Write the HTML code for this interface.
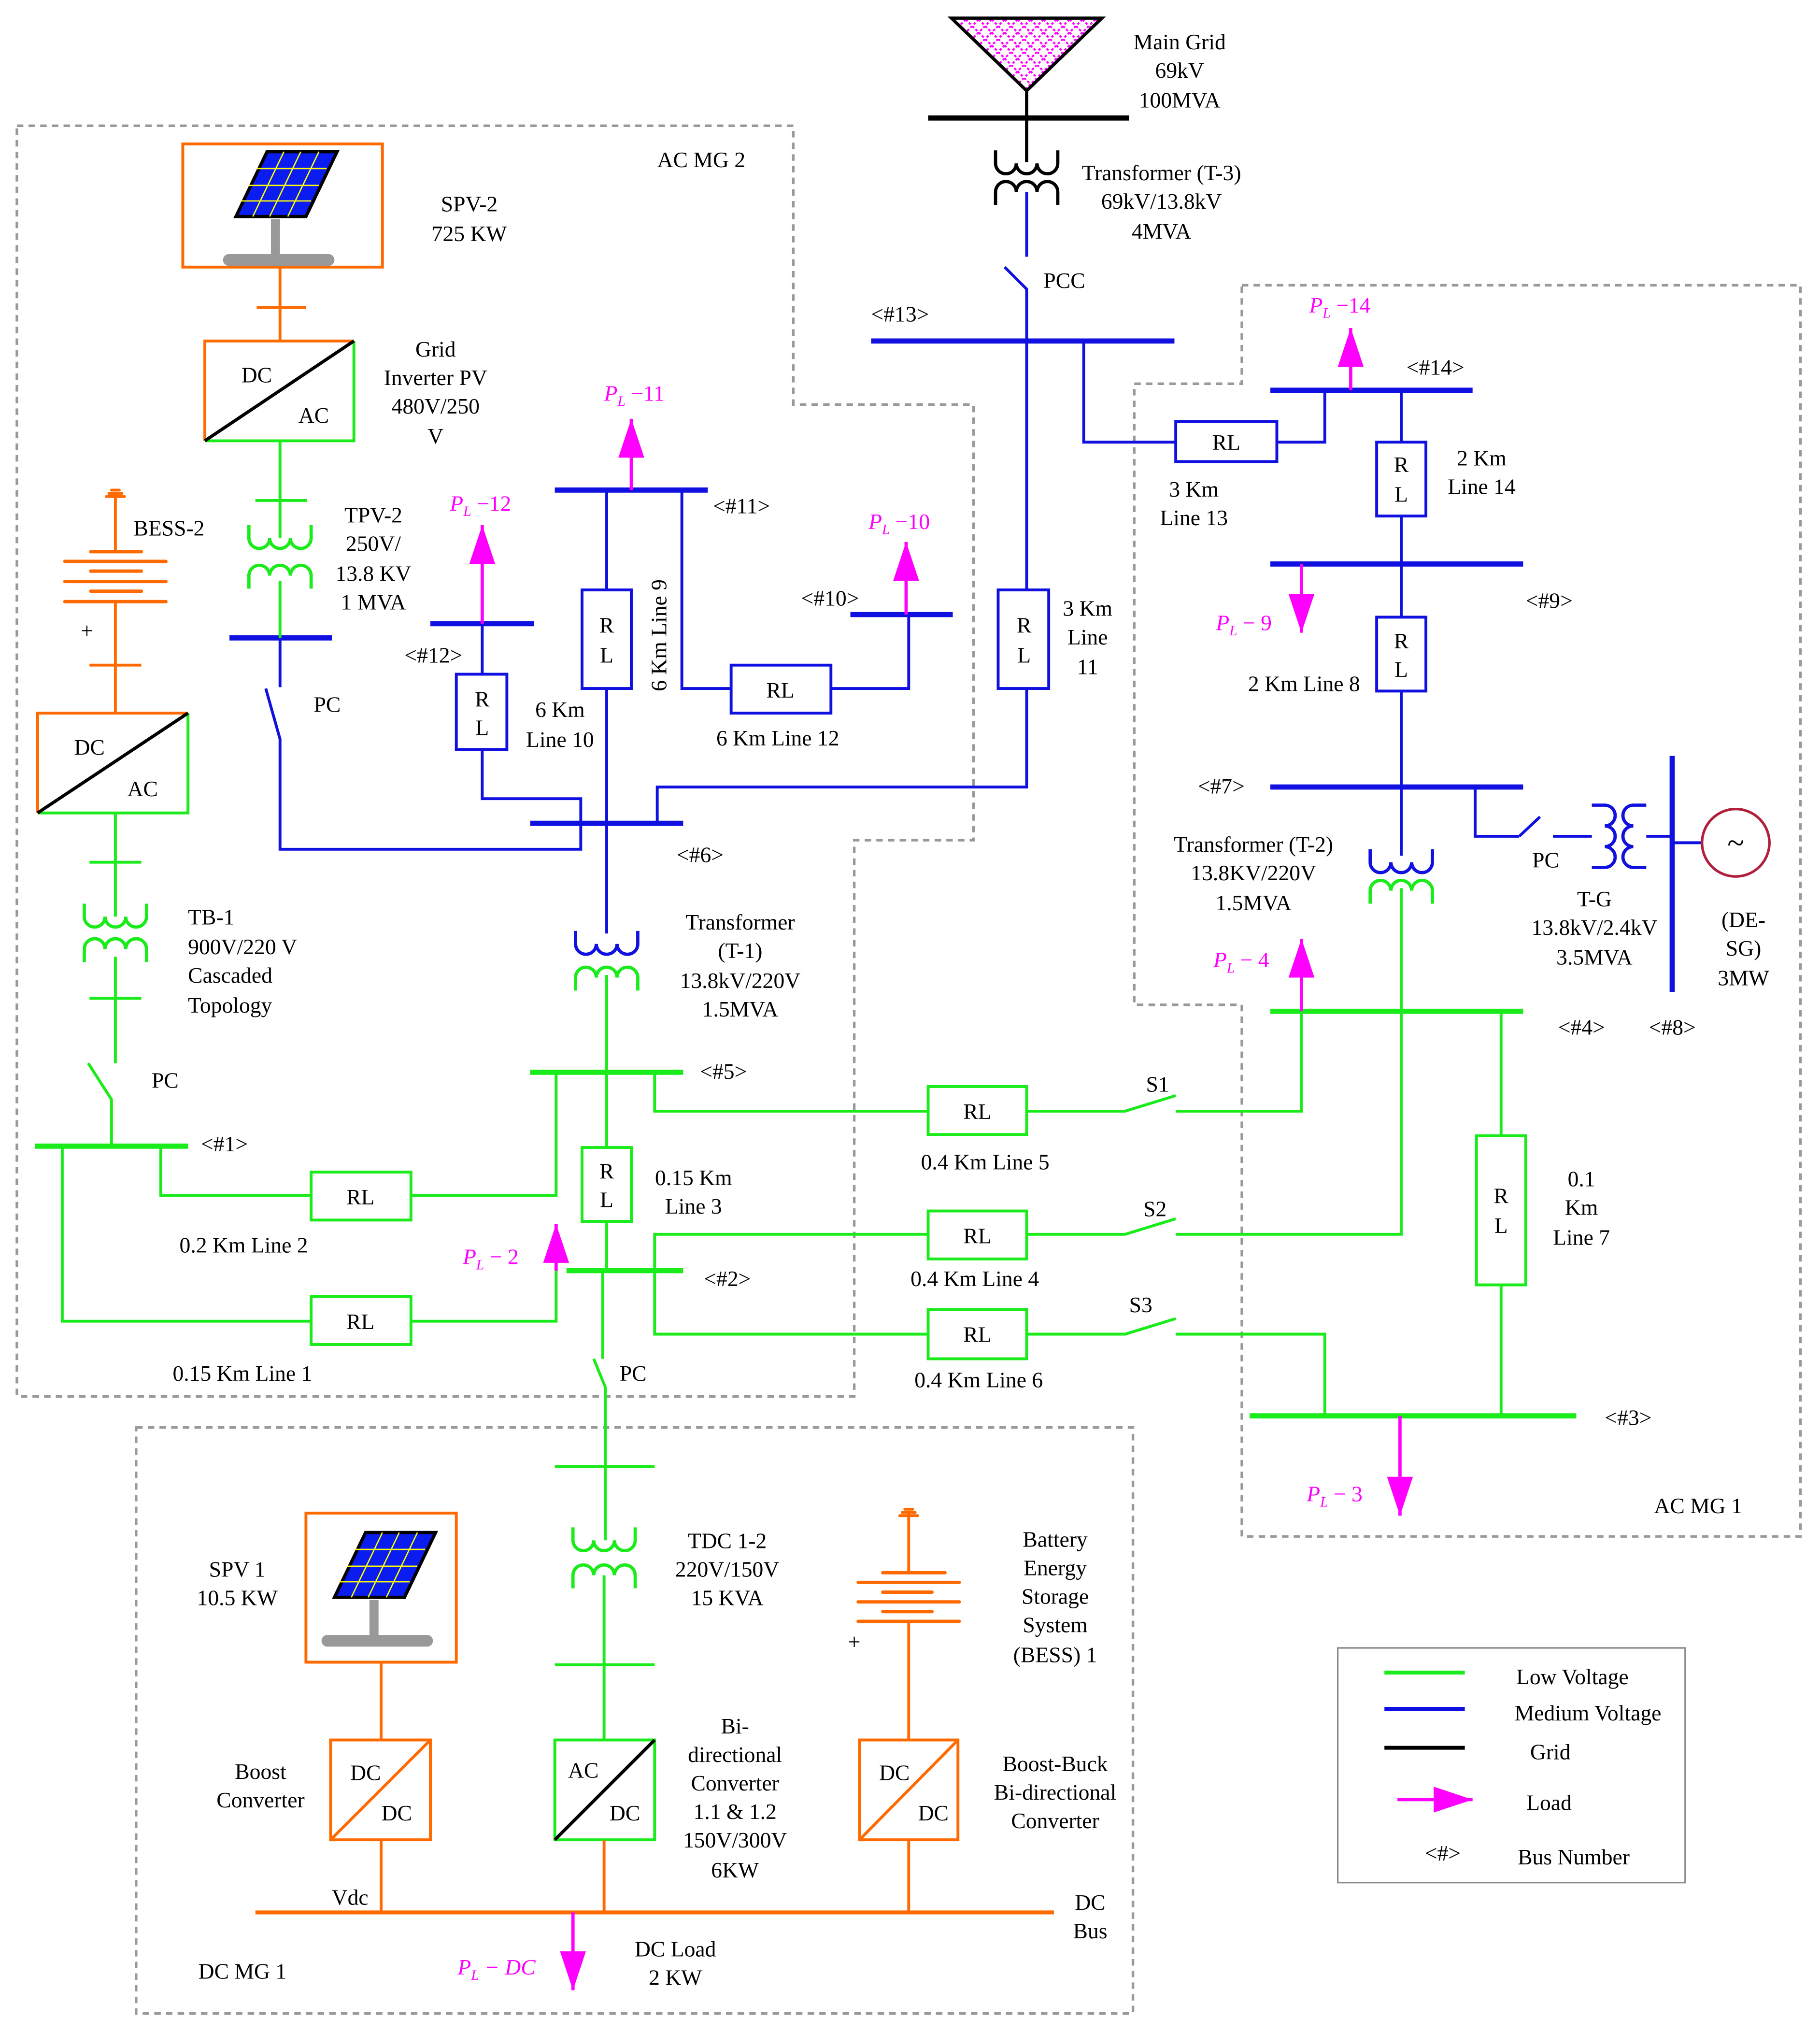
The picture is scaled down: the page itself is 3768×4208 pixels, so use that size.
<!DOCTYPE html>
<html><head><meta charset="utf-8"><style>
html,body{margin:0;padding:0;background:#fff}
svg{display:block}
text{font-family:"Liberation Serif",serif;font-size:17px;fill:#000}
.m{text-anchor:middle}
.pl{fill:#ff00ff}
</style></head><body>
<svg width="3768" height="4208" viewBox="0 0 1404 1568" xmlns="http://www.w3.org/2000/svg">
<defs>
<pattern id="hatch" width="10" height="10" patternUnits="userSpaceOnUse">
<path d="M0,0 L10,10 M10,0 L0,10" stroke="#ff00ff" stroke-width="1.5" stroke-dasharray="2,1.5"/>
</pattern>
<marker id="ar" markerWidth="30" markerHeight="20" refX="30" refY="10" orient="auto" markerUnits="userSpaceOnUse" viewBox="0 0 30 20">
<path d="M0,0 L30,10 L0,20 Z" fill="#ff00ff"/>
</marker>
<g id="wt" fill="none" stroke-width="2.5"><path d="M0,0 V10 A8,8 0 0 0 16,10 A8,8 0 0 0 32,10 A8,8 0 0 0 48,10 V0"/></g>
<g id="wb" fill="none" stroke-width="2.5"><path d="M0,22 V12 A8,8 0 0 1 16,12 A8,8 0 0 1 32,12 A8,8 0 0 1 48,12 V22"/></g>
<g id="panel">
<polygon points="24,0 78,0 54,50 0,50" fill="#0b1cf0" stroke="#000" stroke-width="2.5"/>
<path d="M37,0 L13,50 M50,0 L26,50 M64,0 L40,50 M16,13 H70 M10,26 H64 M4,38 H58" stroke="#ffff00" stroke-width="1"/>
<rect x="27" y="52" width="7" height="30" fill="#999"/>
<rect x="-10" y="79" width="86" height="9" rx="4.5" fill="#999"/>
</g>
<g id="term" stroke="#ff6a00" stroke-width="2.2" stroke-linecap="round">
<path d="M-7,0 H7 M-5,-2.5 H5 M-3,-5 H3"/>
</g>
</defs>

<!-- dashed regions -->
<g fill="none" stroke="#999" stroke-width="2" stroke-dasharray="5,4">
<polygon points="13,97 612,97 612,312 751,312 751,648 659,648 659,1077 13,1077"/>
<polygon points="958,220 1389,220 1389,1185 958,1185 958,775 875,775 875,296 958,296"/>
<rect x="105" y="1101" width="769" height="452"/>
</g>
<rect x="1032" y="1271" width="268" height="181" fill="none" stroke="#888" stroke-width="1.2"/>

<!-- MAIN GRID -->
<polygon points="734,14 850,14 792,70" fill="url(#hatch)" stroke="#000" stroke-width="2.5"/>
<line x1="792" y1="70" x2="792" y2="125" stroke="#000" stroke-width="2.5"/>
<line x1="716" y1="91" x2="871" y2="91" stroke="#000" stroke-width="4"/>
<use href="#wt" x="768" y="116" stroke="#000"/>
<use href="#wb" x="768" y="136" stroke="#000"/>
<text x="910" y="38" class="m">Main Grid</text>
<text x="910" y="60" class="m">69kV</text>
<text x="910" y="83" class="m">100MVA</text>
<text x="896" y="139" class="m">Transformer (T-3)</text>
<text x="896" y="161" class="m">69kV/13.8kV</text>
<text x="896" y="184" class="m">4MVA</text>

<!-- BLUE (medium voltage) -->
<g stroke="#1010e0" stroke-width="2.2" fill="none">
<path d="M792,148 V198 M775,206 L792,223 V455 M792,531 V607 H507 V635"/>
<rect x="770" y="455" width="39" height="76" fill="#fff"/>
<path d="M836,263 V341 H907 M985,341 H1022 V301"/>
<rect x="907" y="325" width="78" height="31" fill="#fff"/>
<path d="M1081,301 V341 M1081,398 V476 M1081,533 V660"/>
<rect x="1062" y="341" width="38" height="57" fill="#fff"/>
<rect x="1062" y="476" width="38" height="57" fill="#fff"/>
<path d="M1138,607 V645 H1172 M1172,645 L1188,630 M1198,645 H1228"/>
<path d="M1270,645 H1290 M1290,650 H1313"/>
<path d="M468,378 V455 M468,531 V720"/>
<rect x="449" y="455" width="38" height="76" fill="#fff"/>
<path d="M526,378 V531 H564 M641,531 H701 V474"/>
<rect x="564" y="513" width="77" height="37" fill="#fff"/>
<path d="M372,481 V520 M372,578 V616 H448 V635"/>
<rect x="352" y="520" width="39" height="58" fill="#fff"/>
<path d="M216,492 V530 M205,531 L216,570 V655 H448 V635"/>
</g>
<g stroke="#1010e0" stroke-width="4">
<line x1="672" y1="263" x2="906" y2="263"/>
<line x1="980" y1="301" x2="1136" y2="301"/>
<line x1="980" y1="435" x2="1175" y2="435"/>
<line x1="980" y1="607" x2="1175" y2="607"/>
<line x1="1290" y1="583" x2="1290" y2="765"/>
<line x1="428" y1="378" x2="546" y2="378"/>
<line x1="656" y1="474" x2="735" y2="474"/>
<line x1="332" y1="481" x2="412" y2="481"/>
<line x1="409" y1="635" x2="527" y2="635"/>
<line x1="177" y1="492" x2="256" y2="492"/>
</g>
<g transform="translate(1228,669) rotate(-90)"><use href="#wt" x="0" y="0" stroke="#1010e0"/></g>
<g transform="translate(1248,669) rotate(-90)"><use href="#wb" x="0" y="0" stroke="#1010e0"/></g>
<circle cx="1339" cy="650" r="26" fill="none" stroke="#b0203a" stroke-width="2"/>
<text x="1339" y="658" class="m" style="font-size:24px">~</text>

<use href="#wt" x="444" y="718" stroke="#1010e0"/>
<use href="#wb" x="444" y="742" stroke="#1aeb1a"/>
<use href="#wt" x="1057" y="655" stroke="#1010e0"/>
<use href="#wb" x="1057" y="675" stroke="#1aeb1a"/>
<use href="#wt" x="192" y="405" stroke="#1aeb1a"/>
<use href="#wb" x="192" y="432" stroke="#1aeb1a"/>
<use href="#wt" x="65" y="697" stroke="#1aeb1a"/>
<use href="#wb" x="65" y="720" stroke="#1aeb1a"/>
<use href="#wt" x="442" y="1178" stroke="#1aeb1a"/>
<use href="#wb" x="442" y="1203" stroke="#1aeb1a"/>

<!-- GREEN (low voltage) -->
<g stroke="#1aeb1a" stroke-width="2.2" fill="none">
<path d="M216,340 V415 M216,448 V492"/>
<path d="M197,386 H237"/>
<path d="M89,627 V707 M89,738 V820 M68,820 L86,848 V884"/>
<path d="M69,665 H109 M69,770 H109"/>
<path d="M124,884 V922 H240 M317,922 H429 V827"/>
<rect x="240" y="904" width="77" height="37" fill="#fff"/>
<path d="M48,884 V1019 H240 M317,1019 H429 V980"/>
<rect x="240" y="1000" width="77" height="37" fill="#fff"/>
<path d="M468,752 V885 M468,942 V980"/>
<rect x="449" y="885" width="38" height="57" fill="#fff"/>
<path d="M465,980 V1048 M458,1048 L467,1070 V1188 M466,1215 V1342"/>
<path d="M428,1131 H505 M428,1284 H505"/>
<path d="M505,827 V857 H716 M792,857 H868 L907,845 M907,857 H1004 V780"/>
<rect x="716" y="838" width="76" height="37" fill="#fff"/>
<path d="M505,980 V952 H716 M792,952 H868 L907,940 M907,952 H1081 V685"/>
<rect x="716" y="934" width="76" height="37" fill="#fff"/>
<path d="M505,980 V1029 H716 M792,1029 H868 L907,1017 M907,1029 H1022 V1092"/>
<rect x="716" y="1010" width="76" height="38" fill="#fff"/>
<path d="M1158,780 V876 M1158,991 V1092"/>
<rect x="1139" y="876" width="38" height="115" fill="#fff"/>
</g>
<g stroke="#1aeb1a" stroke-width="4">
<line x1="27" y1="884" x2="145" y2="884"/>
<line x1="409" y1="827" x2="527" y2="827"/>
<line x1="437" y1="980" x2="527" y2="980"/>
<line x1="980" y1="780" x2="1175" y2="780"/>
<line x1="964" y1="1092" x2="1216" y2="1092"/>
</g>

<!-- converter boxes -->
<g stroke-width="2.2" fill="#fff">
<path d="M158,340 V263 H273" stroke="#ff6a00" fill="none"/>
<path d="M273,263 V340 H158" stroke="#1aeb1a" fill="none"/>
<line x1="158" y1="340" x2="273" y2="263" stroke="#000" stroke-width="2.5"/>
<path d="M29,627 V550 H145" stroke="#ff6a00" fill="none"/>
<path d="M145,550 V627 H29" stroke="#1aeb1a" fill="none"/>
<line x1="29" y1="627" x2="145" y2="550" stroke="#000" stroke-width="2.5"/>
<rect x="255" y="1342" width="77" height="77" stroke="#ff6a00" fill="none"/>
<line x1="255" y1="1419" x2="332" y2="1342" stroke="#ff6a00"/>
<rect x="428" y="1342" width="77" height="77" stroke="#1aeb1a" fill="none"/>
<line x1="428" y1="1419" x2="505" y2="1342" stroke="#000" stroke-width="2.5"/>
<rect x="663" y="1342" width="76" height="77" stroke="#ff6a00" fill="none"/>
<line x1="663" y1="1419" x2="739" y2="1342" stroke="#ff6a00"/>
</g>

<!-- ORANGE -->
<g stroke="#ff6a00" stroke-width="2.2" fill="none">
<rect x="141" y="111" width="154" height="95"/>
<path d="M216,206 V263 M198,237 H236"/>
<path d="M89,381 V425 M89,464 V550 M69,513 H109"/>
<rect x="236" y="1167" width="116" height="115"/>
<path d="M294,1282 V1342 M294,1419 V1475"/>
<path d="M466,1419 V1475"/>
<path d="M701,1167 V1212 M701,1250 V1342 M701,1419 V1475"/>
</g>
<g stroke="#ff6a00" stroke-width="2.6" stroke-linecap="round">
<path d="M70,425.5 H109 M50,433 H128 M70,440.5 H109 M50,448.5 H128 M70,456 H109 M50,464 H128"/>
<path d="M681,1213 H729 M662,1220.5 H740 M681,1228 H719 M662,1235.5 H740 M681,1243 H719 M662,1250.5 H740"/>
</g>
<use href="#term" x="89" y="383"/>
<use href="#term" x="701" y="1169"/>
<line x1="197" y1="1475" x2="813" y2="1475" stroke="#ff6a00" stroke-width="3"/>
<use href="#panel" x="182" y="117"/>
<use href="#panel" x="258" y="1182"/>

<!-- Load arrows -->
<g stroke="#ff00ff" stroke-width="2.5" marker-end="url(#ar)">
<line x1="1042" y1="301" x2="1042" y2="253"/>
<line x1="1004" y1="435" x2="1004" y2="488"/>
<line x1="487" y1="378" x2="487" y2="323"/>
<line x1="699" y1="474" x2="699" y2="418"/>
<line x1="372" y1="481" x2="372" y2="405"/>
<line x1="1004" y1="780" x2="1004" y2="724"/>
<line x1="429" y1="980" x2="429" y2="944"/>
<line x1="1080" y1="1092" x2="1080" y2="1169"/>
<line x1="442" y1="1475" x2="442" y2="1535"/>
<line x1="1078" y1="1388" x2="1136" y2="1388"/>
</g>
<line x1="1068" y1="1290" x2="1130" y2="1290" stroke="#1aeb1a" stroke-width="3"/>
<line x1="1068" y1="1318" x2="1130" y2="1318" stroke="#1010e0" stroke-width="3"/>
<line x1="1068" y1="1348" x2="1130" y2="1348" stroke="#000" stroke-width="3"/>

<!-- Load labels -->
<text x="1010" y="241" class="pl"><tspan font-style="italic">P</tspan><tspan font-size="11" dy="4" font-style="italic">L</tspan><tspan dy="-4"> −14</tspan></text>
<text x="938" y="486" class="pl"><tspan font-style="italic">P</tspan><tspan font-size="11" dy="4" font-style="italic">L</tspan><tspan dy="-4"> − 9</tspan></text>
<text x="466" y="309" class="pl"><tspan font-style="italic">P</tspan><tspan font-size="11" dy="4" font-style="italic">L</tspan><tspan dy="-4"> −11</tspan></text>
<text x="670" y="408" class="pl"><tspan font-style="italic">P</tspan><tspan font-size="11" dy="4" font-style="italic">L</tspan><tspan dy="-4"> −10</tspan></text>
<text x="347" y="394" class="pl"><tspan font-style="italic">P</tspan><tspan font-size="11" dy="4" font-style="italic">L</tspan><tspan dy="-4"> −12</tspan></text>
<text x="936" y="746" class="pl"><tspan font-style="italic">P</tspan><tspan font-size="11" dy="4" font-style="italic">L</tspan><tspan dy="-4"> − 4</tspan></text>
<text x="357" y="975" class="pl"><tspan font-style="italic">P</tspan><tspan font-size="11" dy="4" font-style="italic">L</tspan><tspan dy="-4"> − 2</tspan></text>
<text x="1008" y="1158" class="pl"><tspan font-style="italic">P</tspan><tspan font-size="11" dy="4" font-style="italic">L</tspan><tspan dy="-4"> − 3</tspan></text>
<text x="353" y="1523" class="pl"><tspan font-style="italic">P</tspan><tspan font-size="11" dy="4" font-style="italic">L</tspan><tspan dy="-4" font-style="italic"> − DC</tspan></text>

<!-- RL labels -->
<text x="946" y="347" class="m">RL</text>
<text x="1081" y="364" class="m">R</text><text x="1081" y="387" class="m">L</text>
<text x="1081" y="500" class="m">R</text><text x="1081" y="522" class="m">L</text>
<text x="790" y="488" class="m">R</text><text x="790" y="511" class="m">L</text>
<text x="468" y="488" class="m">R</text><text x="468" y="511" class="m">L</text>
<text x="372" y="545" class="m">R</text><text x="372" y="567" class="m">L</text>
<text x="602" y="538" class="m">RL</text>
<text x="278" y="929" class="m">RL</text>
<text x="278" y="1025" class="m">RL</text>
<text x="468" y="909" class="m">R</text><text x="468" y="931" class="m">L</text>
<text x="754" y="863" class="m">RL</text>
<text x="754" y="959" class="m">RL</text>
<text x="754" y="1035" class="m">RL</text>
<text x="1158" y="928" class="m">R</text><text x="1158" y="951" class="m">L</text>
<text x="198" y="295" class="m">DC</text>
<text x="242" y="326" class="m">AC</text>
<text x="69" y="582" class="m">DC</text>
<text x="110" y="614" class="m">AC</text>
<text x="282" y="1373" class="m">DC</text><text x="306" y="1404" class="m">DC</text>
<text x="450" y="1371" class="m">AC</text><text x="482" y="1404" class="m">DC</text>
<text x="690" y="1373" class="m">DC</text><text x="720" y="1404" class="m">DC</text>

<!-- Bus labels and text -->
<text x="672" y="248">&lt;#13&gt;</text>
<text x="805" y="222">PCC</text>
<text x="1085" y="289">&lt;#14&gt;</text>
<text x="1177" y="469">&lt;#9&gt;</text>
<text x="924" y="612">&lt;#7&gt;</text>
<text x="1202" y="798">&lt;#4&gt;</text>
<text x="1272" y="798">&lt;#8&gt;</text>
<text x="1238" y="1099">&lt;#3&gt;</text>
<text x="550" y="396">&lt;#11&gt;</text>
<text x="618" y="467">&lt;#10&gt;</text>
<text x="312" y="511">&lt;#12&gt;</text>
<text x="522" y="665">&lt;#6&gt;</text>
<text x="540" y="832">&lt;#5&gt;</text>
<text x="543" y="992">&lt;#2&gt;</text>
<text x="155" y="888">&lt;#1&gt;</text>

<text x="921" y="383" class="m">3 Km</text><text x="921" y="405" class="m">Line 13</text>
<text x="1143" y="359" class="m">2 Km</text><text x="1143" y="381" class="m">Line 14</text>
<text x="1006" y="533" class="m">2 Km Line 8</text>
<text x="839" y="475" class="m">3 Km</text><text x="839" y="497" class="m">Line</text><text x="839" y="520" class="m">11</text>
<text x="1182" y="669">PC</text>
<text x="1230" y="699" class="m">T-G</text><text x="1230" y="721" class="m">13.8kV/2.4kV</text><text x="1230" y="744" class="m">3.5MVA</text>
<text x="1345" y="715" class="m">(DE-</text><text x="1345" y="737" class="m">SG)</text><text x="1345" y="760" class="m">3MW</text>
<text x="967" y="657" class="m">Transformer (T-2)</text><text x="967" y="679" class="m">13.8KV/220V</text><text x="967" y="702" class="m">1.5MVA</text>
<text x="541" y="129" class="m">AC MG 2</text>
<text x="1310" y="1167" class="m">AC MG 1</text>
<text x="362" y="163" class="m">SPV-2</text><text x="362" y="186" class="m">725 KW</text>
<text x="336" y="275" class="m">Grid</text><text x="336" y="297" class="m">Inverter PV</text><text x="336" y="319" class="m">480V/250</text><text x="336" y="342" class="m">V</text>
<text x="288" y="403" class="m">TPV-2</text><text x="288" y="425" class="m">250V/</text><text x="288" y="448" class="m">13.8 KV</text><text x="288" y="470" class="m">1 MVA</text>
<text x="103" y="413">BESS-2</text>
<text x="67" y="492" class="m">+</text>
<text x="242" y="549">PC</text>
<text x="432" y="553" class="m">6 Km</text><text x="432" y="576" class="m">Line 10</text>
<text x="600" y="575" class="m">6 Km Line 12</text>
<text transform="translate(514,490) rotate(-90)" class="m">6 Km Line 9</text>
<text x="145" y="713">TB-1</text><text x="145" y="736">900V/220 V</text><text x="145" y="758">Cascaded</text><text x="145" y="781">Topology</text>
<text x="117" y="839">PC</text>
<text x="571" y="717" class="m">Transformer</text><text x="571" y="739" class="m">(T-1)</text><text x="571" y="762" class="m">13.8kV/220V</text><text x="571" y="784" class="m">1.5MVA</text>
<text x="188" y="966" class="m">0.2 Km Line 2</text>
<text x="187" y="1065" class="m">0.15 Km Line 1</text>
<text x="535" y="914" class="m">0.15 Km</text><text x="535" y="936" class="m">Line 3</text>
<text x="478" y="1065">PC</text>
<text x="760" y="902" class="m">0.4 Km Line 5</text>
<text x="752" y="992" class="m">0.4 Km Line 4</text>
<text x="755" y="1070" class="m">0.4 Km Line 6</text>
<text x="893" y="842" class="m">S1</text><text x="891" y="938" class="m">S2</text><text x="880" y="1012" class="m">S3</text>
<text x="1220" y="915" class="m">0.1</text><text x="1220" y="937" class="m">Km</text><text x="1220" y="960" class="m">Line 7</text>

<text x="561" y="1194" class="m">TDC 1-2</text><text x="561" y="1216" class="m">220V/150V</text><text x="561" y="1238" class="m">15 KVA</text>
<text x="183" y="1216" class="m">SPV 1</text><text x="183" y="1238" class="m">10.5 KW</text>
<text x="814" y="1193" class="m">Battery</text><text x="814" y="1215" class="m">Energy</text><text x="814" y="1237" class="m">Storage</text><text x="814" y="1259" class="m">System</text><text x="814" y="1282" class="m">(BESS) 1</text>
<text x="659" y="1272" class="m">+</text>
<text x="201" y="1372" class="m">Boost</text><text x="201" y="1394" class="m">Converter</text>
<text x="567" y="1337" class="m">Bi-</text><text x="567" y="1359" class="m">directional</text><text x="567" y="1381" class="m">Converter</text><text x="567" y="1403" class="m">1.1 &amp; 1.2</text><text x="567" y="1425" class="m">150V/300V</text><text x="567" y="1448" class="m">6KW</text>
<text x="814" y="1366" class="m">Boost-Buck</text><text x="814" y="1388" class="m">Bi-directional</text><text x="814" y="1410" class="m">Converter</text>
<text x="270" y="1469" class="m">Vdc</text>
<text x="841" y="1473" class="m">DC</text><text x="841" y="1495" class="m">Bus</text>
<text x="521" y="1509" class="m">DC Load</text><text x="521" y="1531" class="m">2 KW</text>
<text x="187" y="1526" class="m">DC MG 1</text>

<text x="1213" y="1299" class="m">Low Voltage</text>
<text x="1225" y="1327" class="m">Medium Voltage</text>
<text x="1196" y="1357" class="m">Grid</text>
<text x="1195" y="1396" class="m">Load</text>
<text x="1113" y="1435" class="m">&lt;#&gt;</text>
<text x="1214" y="1438" class="m">Bus Number</text>
</svg>
</body></html>
